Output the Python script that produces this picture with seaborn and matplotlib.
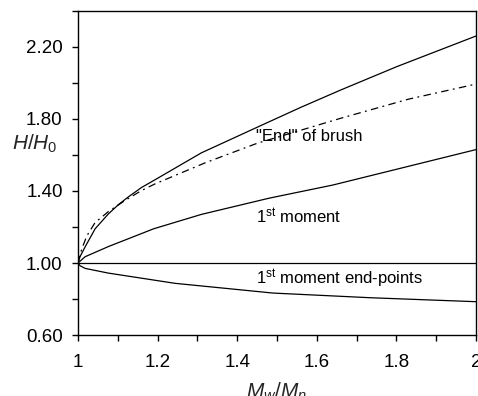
import matplotlib
matplotlib.use("Agg")
import matplotlib.pyplot as plt
from matplotlib.ticker import MultipleLocator, FormatStrFormatter, FuncFormatter
import seaborn as sns

# Brush height ratio H/H0 versus polydispersity Mw/Mn
brush_end_x = [1.0, 1.009, 1.022, 1.043, 1.076, 1.12, 1.16, 1.194, 1.32, 1.45, 1.66, 1.83, 2.0]
brush_end_h = [1.0, 1.075, 1.15, 1.225, 1.285, 1.35, 1.403, 1.44, 1.557, 1.665, 1.804, 1.91, 1.994]

upper_x = [1.0, 1.005, 1.018, 1.043, 1.076, 1.102, 1.127, 1.16, 1.194, 1.31,
           1.45, 1.56, 1.66, 1.8, 2.0]
upper_h = [1.0, 1.035, 1.09, 1.19, 1.272, 1.325, 1.368, 1.42, 1.463, 1.612,
           1.754, 1.865, 1.961, 2.09, 2.261]

moment_x = [1.0, 1.018, 1.076, 1.19, 1.31, 1.48, 1.64, 2.0]
moment_h = [1.0, 1.035, 1.091, 1.19, 1.27, 1.36, 1.433, 1.63]

ref_x = [1.0, 2.0]
ref_h = [1.0, 1.0]

endpts_x = [1.0, 1.005, 1.018, 1.076, 1.244, 1.49, 1.735, 2.0]
endpts_h = [1.0, 0.985, 0.97, 0.944, 0.887, 0.833, 0.807, 0.785]

x_ticks = [1.0, 1.2, 1.4, 1.6, 1.8, 2.0]
y_ticks = [0.6, 1.0, 1.4, 1.8, 2.2]

sns.set_style("ticks")
plt.rcParams["font.family"] = ["Liberation Sans", "DejaVu Sans"]
plt.rcParams["mathtext.fontset"] = "custom"
plt.rcParams["mathtext.rm"] = "Liberation Sans"
plt.rcParams["mathtext.it"] = "Liberation Sans:italic"

fig = plt.figure(figsize=(4.78, 3.96), dpi=100)
ax = fig.add_axes([78 / 478, 1 - 335 / 396, 398 / 478, 324 / 396])

lw = 0.9
sns.lineplot(x=upper_x, y=upper_h, ax=ax, color="black", lw=lw, sort=False)
sns.lineplot(x=brush_end_x, y=brush_end_h, ax=ax, color="black", lw=lw,
             sort=False).lines[-1].set_dashes((6, 3.5, 1.5, 3.5))
sns.lineplot(x=moment_x, y=moment_h, ax=ax, color="black", lw=lw, sort=False)
sns.lineplot(x=ref_x, y=ref_h, ax=ax, color="black", lw=lw, sort=False)
sns.lineplot(x=endpts_x, y=endpts_h, ax=ax, color="black", lw=lw, sort=False)

ax.set_xlim(1.0, 2.0)
ax.set_ylim(0.6, 2.4)
ax.set_xticks(x_ticks)
ax.set_yticks(y_ticks)
ax.xaxis.set_minor_locator(MultipleLocator(0.1))
ax.yaxis.set_minor_locator(MultipleLocator(0.2))
ax.xaxis.set_major_formatter(FuncFormatter(lambda v, p: f"{v:g}"))
ax.yaxis.set_major_formatter(FormatStrFormatter("%.2f"))

for s in ax.spines.values():
    s.set_linewidth(1.0)
    s.set_color("black")

ax.tick_params(axis="both", which="both", direction="out", length=4,
               width=1.0, color="black", labelsize=13.5, labelcolor="black")
ax.tick_params(axis="x", which="both", pad=10)
ax.tick_params(axis="y", which="both", pad=7)

ax.set_ylabel("$H/H_0$", fontsize=15, rotation=0, labelpad=0)
ax.yaxis.set_label_coords(-0.108, 0.556)
ax.set_xlabel("$M_w/M_n$", fontsize=15, labelpad=0)
ax.xaxis.set_label_coords(0.5, -0.14)

txt = dict(fontsize=12, color="black", ha="left", va="center")
ax.text(1.446, 1.70, '"End" of brush', **txt)
ax.text(1.446, 1.257, r"1$^{\rm st}$ moment", **txt)
ax.text(1.446, 0.915, r"1$^{\rm st}$ moment end-points", **txt)

fig.savefig("out.png", dpi=100)
